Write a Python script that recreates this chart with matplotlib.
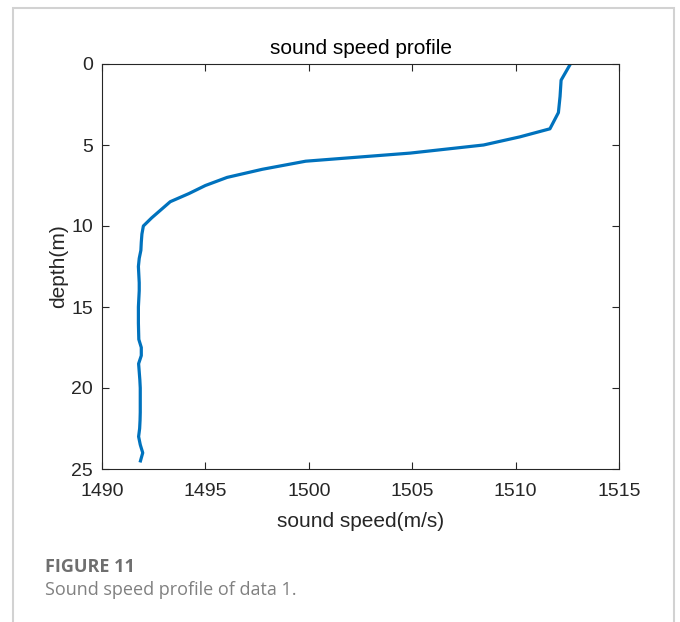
import matplotlib
matplotlib.use("Agg")
import matplotlib.pyplot as plt
from matplotlib.patches import Rectangle

# depth (m) and sound speed (m/s)
depth = [0, 1, 2, 3, 4, 4.5, 5, 5.5, 6, 6.5, 7, 7.5, 8, 8.5, 9, 9.5, 10,
         10.5, 11, 11.5, 12, 12.5, 13, 13.5, 14, 14.5, 15, 15.5, 16, 16.5,
         17, 17.5, 18, 18.5, 19, 19.5, 20, 20.5, 21, 21.5, 22, 22.5, 23,
         23.5, 24, 24.5]
speed = [1512.65, 1512.2, 1512.15, 1512.07, 1511.66, 1510.2, 1508.45,
         1504.9, 1499.85, 1497.75, 1496.05, 1495.0, 1494.2, 1493.3,
         1492.85, 1492.4, 1492.0, 1491.93, 1491.9, 1491.88, 1491.8,
         1491.76, 1491.78, 1491.8, 1491.8, 1491.78, 1491.76, 1491.76,
         1491.76, 1491.77, 1491.78, 1491.9, 1491.9, 1491.77, 1491.8,
         1491.83, 1491.85, 1491.85, 1491.85, 1491.85, 1491.84, 1491.82,
         1491.77, 1491.85, 1491.97, 1491.86]

xticks = [1490, 1495, 1500, 1505, 1510, 1515]
yticks = [0, 5, 10, 15, 20, 25]

plt.rcParams['font.family'] = ['Liberation Sans', 'DejaVu Sans']

W, H = 680, 622
fig = plt.figure(figsize=(W / 100, H / 100), dpi=100)
fig.patch.set_facecolor('white')

# card border
fig.patches.append(Rectangle((13 / W, -0.1), (674 - 13) / W, 1.1 - 8 / H,
                             transform=fig.transFigure, fill=False,
                             edgecolor='#d2d2d2', linewidth=1.5))

ax = fig.add_axes([102 / W, 1 - 469 / H, (619 - 102) / W, (469 - 64) / H])
ax.plot(speed, depth, color='#0072BD', linewidth=2.3)

ax.set_xlim(1490, 1515)
ax.set_ylim(25, 0)
ax.set_xticks(xticks)
ax.set_yticks(yticks)
ax.tick_params(direction='in', top=True, right=True, length=5, width=0.8,
               labelsize=14, colors='#262626')
ax.tick_params(axis='x', pad=10)
ax.tick_params(axis='y', pad=6.5)
for s in ax.spines.values():
    s.set_linewidth(0.8)
    s.set_color('#262626')

ax.set_title('sound speed profile', fontsize=15, color='black', pad=7)
ax.set_xlabel('sound speed(m/s)', fontsize=15, color='#262626', labelpad=8.5)
ax.set_ylabel('depth(m)', fontsize=15, color='#262626', labelpad=2)

fig.text(45 / W, 1 - 572 / H, 'FIGURE 11', fontsize=13, fontweight='bold',
         color='#6f6f6f', family=['Open Sans', 'DejaVu Sans'])
fig.text(45 / W, 1 - 595 / H, 'Sound speed profile of data 1.', fontsize=13,
         color='#808080', family=['Open Sans', 'DejaVu Sans'])

fig.savefig('out.png', dpi=100, facecolor='white')
